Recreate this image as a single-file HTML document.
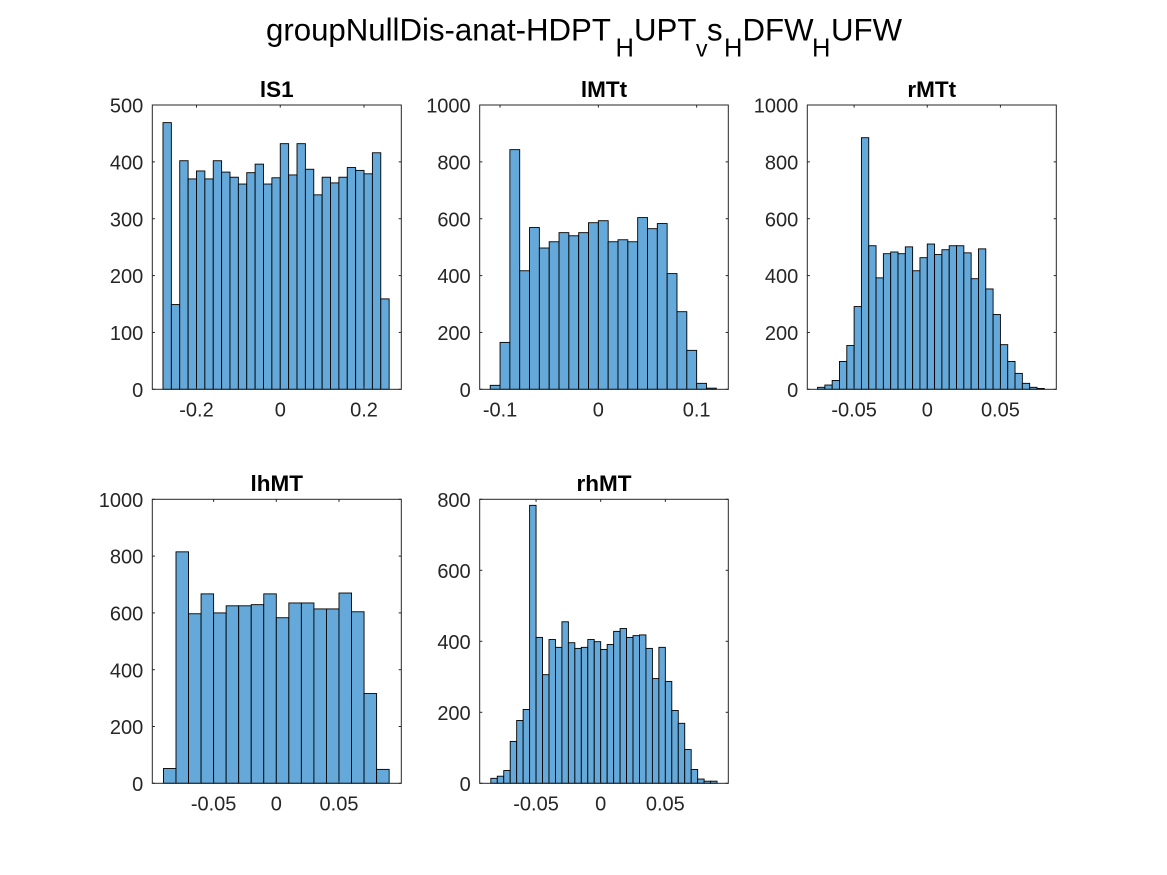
<!DOCTYPE html>
<html>
<head>
<meta charset="utf-8">
<title>groupNullDis-anat</title>
<style>
html,body{margin:0;padding:0;background:#fff;}
svg{display:block;}
text{font-family:"Liberation Sans",sans-serif;}
</style>
</head>
<body>
<svg id="fig" xmlns="http://www.w3.org/2000/svg" width="1167" height="875" viewBox="0 0 1167 875">
<text y="40.5" font-size="31.2" fill="#000"><tspan x="266">groupNullDis-anat-HDPT</tspan><tspan x="615.5" y="56.5" font-size="25.5">H</tspan><tspan x="634" y="40.5">UPT</tspan><tspan x="696" y="56.5" font-size="23">v</tspan><tspan x="707" y="40.5">s</tspan><tspan x="724" y="56.5" font-size="25.5">H</tspan><tspan x="742.5" y="40.5">DFW</tspan><tspan x="812" y="56.5" font-size="25.5">H</tspan><tspan x="831" y="40.5">UFW</tspan></text>
</svg>
<script>
const lS1Counts = [469,149,402,370,384,370,402,382,373,361,381,396,361,372,432,377,432,387,342,373,363,373,390,385,379,416,159];
const lMTtCounts = [14,165,843,417,569,497,519,551,540,551,586,593,519,526,519,604,565,583,407,273,137,21,4];
const rMTtCounts = [7,15,31,98,154,291,885,505,392,477,483,477,501,417,463,511,474,491,505,505,480,389,494,353,263,157,98,56,21,7,3];
const lhMTCounts = [52,815,597,667,600,625,625,629,667,583,635,635,614,614,670,604,316,49];
const rhMTCounts = [14,20,36,118,177,208,783,411,306,405,383,455,396,380,383,405,399,377,391,428,436,411,416,418,380,295,383,287,205,169,95,39,12,6,6];

const lS1Bins = [-0.28, 0.02];
const lMTtBins = [-0.11, 0.01];
const rMTtBins = [-0.075, 0.005];
const lhMTBins = [-0.09, 0.01];
const rhMTBins = [-0.085, 0.005];

const lS1XLim = [-0.3055, 0.289];
const lMTtXLim = [-0.1207, 0.1322];
const rMTtXLim = [-0.082, 0.0882];
const lhMTXLim = [-0.0989, 0.0997];
const rhMTXLim = [-0.0936, 0.0987];

const lS1XTicks = [-0.2, 0, 0.2];
const lMTtXTicks = [-0.1, 0, 0.1];
const rMTtXTicks = [-0.05, 0, 0.05];
const lhMTXTicks = [-0.05, 0, 0.05];
const rhMTXTicks = [-0.05, 0, 0.05];

const lS1YTicks = [0, 100, 200, 300, 400, 500];
const lMTtYTicks = [0, 200, 400, 600, 800, 1000];
const rMTtYTicks = [0, 200, 400, 600, 800, 1000];
const lhMTYTicks = [0, 200, 400, 600, 800, 1000];
const rhMTYTicks = [0, 200, 400, 600, 800];

const panelTitles = ["lS1", "lMTt", "rMTt", "lhMT", "rhMT"];
const panelCounts = [lS1Counts, lMTtCounts, rMTtCounts, lhMTCounts, rhMTCounts];
const panelBins = [lS1Bins, lMTtBins, rMTtBins, lhMTBins, rhMTBins];
const panelXLims = [lS1XLim, lMTtXLim, rMTtXLim, lhMTXLim, rhMTXLim];
const panelXTicks = [lS1XTicks, lMTtXTicks, rMTtXTicks, lhMTXTicks, rhMTXTicks];
const panelYTicks = [lS1YTicks, lMTtYTicks, rMTtYTicks, lhMTYTicks, rhMTYTicks];

const NS = "http://www.w3.org/2000/svg";
const fig = document.getElementById("fig");
const frames = [
  {l:152.3, r:401.3, t:105, b:389.3},
  {l:479.7, r:728.3, t:105, b:389.3},
  {l:807.3, r:1056.3, t:105, b:389.3},
  {l:152.3, r:401.3, t:499.3, b:783.3},
  {l:479.7, r:728.3, t:499.3, b:783.3}
];
const INK = "#262626";
const TICK_LEN = 2.6;

function make(tag, parent, attrs) {
  const n = document.createElementNS(NS, tag);
  for (const k in attrs) n.setAttribute(k, attrs[k]);
  parent.appendChild(n);
  return n;
}

panelTitles.forEach(function (title, i) {
  const f = frames[i];
  const counts = panelCounts[i];
  const bins = panelBins[i];
  const xlim = panelXLims[i];
  const xTicks = panelXTicks[i];
  const yTicks = panelYTicks[i];
  const ymax = yTicks[yTicks.length - 1];
  const xScale = function (v) { return f.l + (v - xlim[0]) / (xlim[1] - xlim[0]) * (f.r - f.l); };
  const yScale = function (v) { return f.b - v / ymax * (f.b - f.t); };

  const g = make("g", fig, {});
  
  

  counts.forEach(function (c, j) {
    const x0 = xScale(bins[0] + j * bins[1]);
    const x1 = xScale(bins[0] + (j + 1) * bins[1]);
    const bar = make("rect", g, {x: x0, y: yScale(c), width: x1 - x0, height: f.b - yScale(c), fill: "#64a9d9", stroke: "#000", "stroke-width": 0.9});
    
    
  });

  const box = make("rect", g, {x: f.l, y: f.t, width: f.r - f.l, height: f.b - f.t, fill: "none", stroke: INK, "stroke-width": 1});
  
  

  xTicks.forEach(function (v) {
    const x = xScale(v);
    const tb = make("line", g, {x1: x, x2: x, y1: f.b, y2: f.b - TICK_LEN, stroke: INK, "stroke-width": 1});
    
    
    const tt = make("line", g, {x1: x, x2: x, y1: f.t, y2: f.t + TICK_LEN, stroke: INK, "stroke-width": 1});
    
    
    const lab = make("text", g, {x: x, y: f.b + 27.3, "text-anchor": "middle", "font-size": 20, fill: INK});
    lab.textContent = String(v);
    
    
  });

  yTicks.forEach(function (v) {
    const y = yScale(v);
    const tl = make("line", g, {x1: f.l, x2: f.l + TICK_LEN, y1: y, y2: y, stroke: INK, "stroke-width": 1});
    
    
    const tr = make("line", g, {x1: f.r, x2: f.r - TICK_LEN, y1: y, y2: y, stroke: INK, "stroke-width": 1});
    
    
    const lab = make("text", g, {x: f.l - 9, y: y + 7.6, "text-anchor": "end", "font-size": 20, fill: INK});
    lab.textContent = String(v);
    
    
  });

  const t = make("text", g, {x: (f.l + f.r) / 2, y: f.t - 8.2, "text-anchor": "middle", "font-size": 22.5, "font-weight": "bold", fill: "#000"});
  t.textContent = title;
  
  
});
</script>
</body>
</html>
